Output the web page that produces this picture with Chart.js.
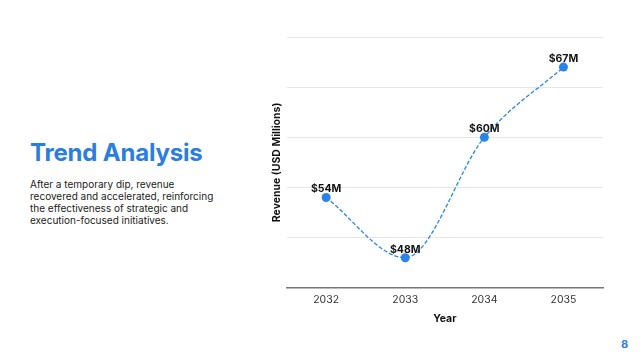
<!DOCTYPE html>
<html><head><meta charset="utf-8">
<script src="https://cdn.jsdelivr.net/npm/chart.js@4/dist/chart.umd.min.js"></script>
<style>
html,body{margin:0;padding:0;background:#fff;width:640px;height:360px;overflow:hidden;font-family:Inter,"Noto Sans",sans-serif;}
#title{position:absolute;left:30px;top:138px;font-size:24px;font-weight:700;color:#2a7de1;letter-spacing:-0.2px;}
#desc{position:absolute;left:30px;top:178px;width:185px;font-size:10px;line-height:12px;color:#222;}
#page{position:absolute;left:621px;top:337px;font-size:11px;font-weight:700;color:#2a7de1;}
#wrap{position:absolute;left:267px;top:20px;width:348px;height:311px;}
</style></head><body>
<div id="title">Trend Analysis</div>
<div id="desc">After a temporary dip, revenue recovered and accelerated, reinforcing the effectiveness of strategic and execution-focused initiatives.</div>
<div id="page">8</div>
<div id="wrap"><canvas id="c"></canvas></div>
<script>
const years = ['2032','2033','2034','2035'];
const revenue = [54, 48, 60, 67];
const valueLabels = ['$54M','$48M','$60M','$67M'];
const blue = '#2a84e8';

const labelPlugin = {
  id:'valLabels',
  afterDatasetsDraw(chart){
    const ctx = chart.ctx;
    const meta = chart.getDatasetMeta(0);
    ctx.save();
    ctx.font = '700 10.5px Inter, "Noto Sans", sans-serif';
    ctx.fillStyle = '#111';
    ctx.textAlign = 'center';
    ctx.textBaseline = 'bottom';
    meta.data.forEach((p,i)=>{ ctx.fillText(valueLabels[i], p.x, p.y - 3); });
    ctx.restore();
  }
};

new Chart(document.getElementById('c'), {
  type:'line',
  data:{labels:years, datasets:[{
    data:revenue, borderColor:blue, backgroundColor:blue, borderWidth:1.3,
    borderDash:[4,2], cubicInterpolationMode:'monotone', tension:0.4,
    pointRadius:4.5, pointBackgroundColor:blue, pointBorderWidth:0, fill:false
  }]},
  options:{
    responsive:true, maintainAspectRatio:false, animation:false,
    layout:{padding:{top:17,right:12,left:0,bottom:0}},
    plugins:{legend:{display:false}, tooltip:{enabled:false}},
    scales:{
      x:{offset:true, grid:{display:false,drawTicks:false}, border:{display:true,color:'#777',width:1.5},
         ticks:{color:'#333',font:{family:'Inter',size:10.5},padding:6},
         title:{display:true,text:'Year',color:'#111',font:{family:'Inter',size:10.5,weight:'700'},padding:{top:0,bottom:6}}},
      y:{min:45,max:70, ticks:{display:false,stepSize:5}, border:{display:false},
         grid:{color:'#e6e6e6',drawTicks:false},
         title:{display:true,text:'Revenue (USD Millions)',color:'#111',font:{family:'Inter',size:10.5,weight:'700'},padding:{top:4,bottom:3}}}
    }
  },
  plugins:[labelPlugin]
});
</script>
</body></html>
